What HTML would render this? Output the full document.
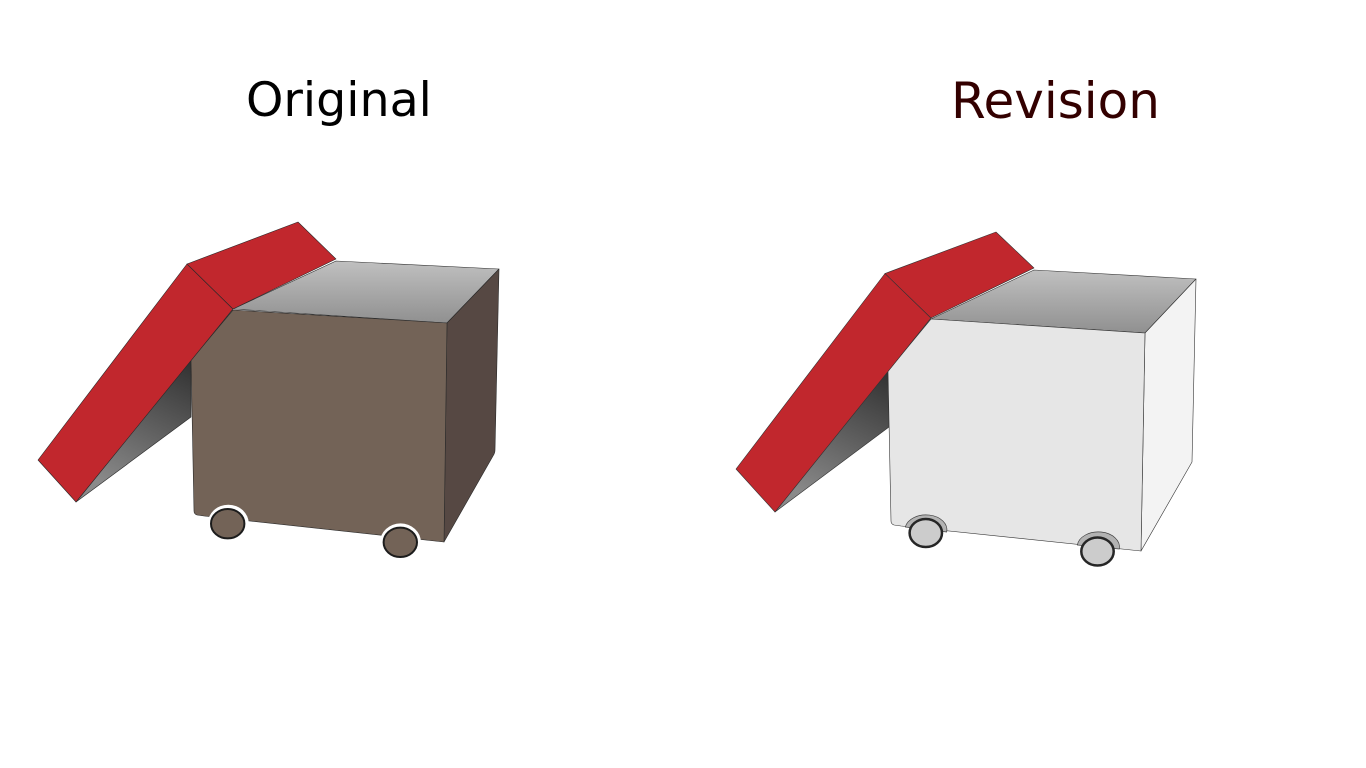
<!DOCTYPE html>
<html>
<head>
<meta charset="utf-8">
<style>
html,body{margin:0;padding:0;background:#fff;width:1366px;height:768px;overflow:hidden}
svg{display:block}
text{font-family:"DejaVu Sans",sans-serif}
</style>
</head>
<body>
<svg width="1366" height="768" viewBox="0 0 1366 768" xmlns="http://www.w3.org/2000/svg">
<defs>
<linearGradient id="top1" gradientUnits="userSpaceOnUse" x1="0" y1="261" x2="0" y2="323">
<stop offset="0" stop-color="#c0c0c0"/><stop offset="1" stop-color="#909090"/>
</linearGradient>
<linearGradient id="top2" gradientUnits="userSpaceOnUse" x1="0" y1="270" x2="0" y2="333">
<stop offset="0" stop-color="#c0c0c0"/><stop offset="1" stop-color="#909090"/>
</linearGradient>
<linearGradient id="und1" gradientUnits="userSpaceOnUse" x1="191" y1="365" x2="125" y2="495">
<stop offset="0" stop-color="#333"/><stop offset="1" stop-color="#8a8a8a"/>
</linearGradient>
<linearGradient id="und2" gradientUnits="userSpaceOnUse" x1="888" y1="375" x2="822" y2="505">
<stop offset="0" stop-color="#333"/><stop offset="1" stop-color="#8a8a8a"/>
</linearGradient>
</defs>
<rect width="1366" height="768" fill="#fff"/>

<text x="246" y="116" font-size="47.5" fill="#000">Original</text>
<text x="951" y="118" font-size="50" fill="#330000">Revision</text>

<!-- Original -->
<g stroke="#2a2a2a" stroke-width="0.6" stroke-linejoin="round">
<polygon points="191,360 191,417 76,502" fill="url(#und1)"/>
<polygon points="233,309 336,261 499,269 447,323" fill="url(#top1)"/>
<path d="M447,323 L499,269 L495,450 Q495,453 493,456 L444,542 Z" fill="#564843"/>
<path d="M233,310 L447,323 L444,542 L204,516 L197,515 Q194,514 194,511 L191,360 Z" fill="#736357"/>
<ellipse cx="228.300" cy="523.700" rx="20.500" ry="19" fill="#fff" stroke="none"/>
<ellipse cx="400.500" cy="542.400" rx="20.500" ry="19" fill="#fff" stroke="none"/>
<ellipse cx="227.700" cy="523.700" rx="16.700" ry="14.700" fill="#736357" stroke="#1c1c1c" stroke-width="2"/>
<ellipse cx="400.300" cy="542.300" rx="16.700" ry="14.700" fill="#736357" stroke="#1c1c1c" stroke-width="2"/>
<polygon points="38,460 187,264 233,309 76,502" fill="#c1272d"/>
<polygon points="187,264 298,222 336,259 233,309" fill="#c1272d"/>
</g>

<!-- Revision -->
<g stroke="#333" stroke-width="0.6" stroke-linejoin="round">
<polygon points="888,371 889,427 775,512" fill="url(#und2)"/>
<polygon points="931,319 1034,270 1196,279 1145,333" fill="url(#top2)"/>
<polygon points="1145,333 1196,279 1192,462 1141,551" fill="#f3f3f3"/>
<path d="M931,319 L1145,333 L1141,551 L901,526 L894,525 Q891,524 891,521 L888,371 Z" fill="#e6e6e6"/>
<path d="M905.300,527 A21,15 0 0 1 946.700,532 Z" fill="#b3b3b3" stroke="#444" stroke-width="0.7"/>
<path d="M1077.300,545 A21,15 0 0 1 1119.300,549 Z" fill="#b3b3b3" stroke="#444" stroke-width="0.7"/>
<ellipse cx="925.800" cy="533" rx="16.200" ry="14" fill="#cccccc" stroke="#262626" stroke-width="2.500"/>
<ellipse cx="1097.500" cy="551.500" rx="16.200" ry="14" fill="#cccccc" stroke="#262626" stroke-width="2.500"/>
<polygon points="736,469 885,273.500 931,318 775,512" fill="#c1272d"/>
<polygon points="885,273.500 996,232 1034,268 931,318" fill="#c1272d"/>
</g>
</svg>
</body>
</html>
